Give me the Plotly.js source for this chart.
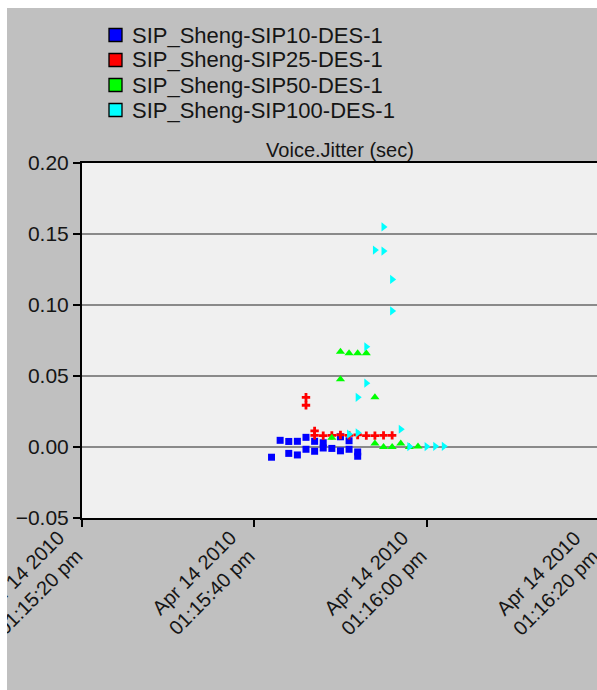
<!DOCTYPE html>
<html>
<head>
<meta charset="utf-8">
<script src="https://cdn.plot.ly/plotly-3.0.1.min.js"></script>
<style>
  html, body { margin: 0; padding: 0; background: #ffffff; overflow: hidden; width: 597px; height: 690px; }
  #chart { position: absolute; left: 7px; top: 8px; width: 600px; height: 682px; overflow: hidden; }
</style>
</head>
<body>
<div id="chart"></div>
<script>
// ---- data ----
const seriesNames = ["SIP_Sheng-SIP10-DES-1", "SIP_Sheng-SIP25-DES-1", "SIP_Sheng-SIP50-DES-1", "SIP_Sheng-SIP100-DES-1"];
const seriesColors = ["#0000ff", "#ff0000", "#00ff00", "#00ffff"];

const sip10Time = ["13:15:42","13:15:43","13:15:44","13:15:44","13:15:45","13:15:45","13:15:46","13:15:46","13:15:47","13:15:47","13:15:48","13:15:48","13:15:49","13:15:50","13:15:50","13:15:51","13:15:51","13:15:52","13:15:52"];
const sip10Jitter = [-0.0072, 0.0047, 0.0039, -0.0045, 0.0040, -0.0056, 0.0068, -0.0016, 0.0040, -0.0030, 0.0030, -0.0007, -0.0010, 0.0072, -0.0027, 0.0044, -0.0016, -0.0035, -0.0065];

const sip25Time = ["13:15:46","13:15:46","13:15:47","13:15:47","13:15:48","13:15:49","13:15:50","13:15:51","13:15:52","13:15:53","13:15:54","13:15:55","13:15:56"];
const sip25Jitter = [0.0350, 0.0294, 0.0113, 0.0082, 0.0080, 0.0082, 0.0085, 0.0082, 0.0085, 0.0080, 0.0080, 0.0082, 0.0082];

const sip50Time = ["13:15:49","13:15:50","13:15:50","13:15:51","13:15:52","13:15:53","13:15:54","13:15:54","13:15:55","13:15:56","13:15:57","13:15:58","13:15:59"];
const sip50Jitter = [0.0065, 0.0670, 0.0477, 0.0660, 0.0660, 0.0660, 0.0350, 0.0025, 0.0000, 0.0000, 0.0025, 0.0000, 0.0003];

const sip100Time = ["13:15:51","13:15:52","13:15:52","13:15:53","13:15:53","13:15:54","13:15:55","13:15:55","13:15:56","13:15:56","13:15:57","13:15:58","13:16:00","13:16:01","13:16:02"];
const sip100Jitter = [0.0090, 0.0350, 0.0100, 0.0706, 0.0449, 0.1387, 0.1550, 0.1380, 0.1180, 0.0958, 0.0125, 0.0003, 0.0003, 0.0005, 0.0005];

const xTickVals = ["13:15:20", "13:15:40", "13:16:00", "13:16:20"];
const xTickText = ["Apr 14 2010<br>01:15:20 pm", "Apr 14 2010<br>01:15:40 pm", "Apr 14 2010<br>01:16:00 pm", "Apr 14 2010<br>01:16:20 pm"];
const yTickVals = [-0.05, 0.00, 0.05, 0.10, 0.15, 0.20];
const yTickText = ["\u22120.05", "0.00", "0.05", "0.10", "0.15", "0.20"];

const day = "2010-04-14 ";
const toDate = arr => arr.map(t => day + t);

const symbols = ["square", "cross", "triangle-up", "triangle-right"];
const sizes = [7, 7, 8, 8];
const times = [sip10Time, sip25Time, sip50Time, sip100Time];
const values = [sip10Jitter, sip25Jitter, sip50Jitter, sip100Jitter];

const FONT = "Liberation Sans, Arial, sans-serif";
const TEXT = "#151515";

const traces = [];
for (let i = 0; i < 4; i++) {
  traces.push({
    type: "scatter", mode: "markers",
    x: toDate(times[i]), y: values[i],
    name: seriesNames[i], showlegend: false,
    marker: { symbol: symbols[i], size: sizes[i], color: seriesColors[i], line: { width: 0 } },
    hoverinfo: "skip"
  });
}

// geometry of the plot area (page pixels) used to place the legend box
const W = 600, H = 682, ML = 75, MR = 0, MT = 155, MB = 172;
const plotW = W - ML - MR, plotH = H - MT - MB;
const offX = 7, offY = 8;
const px2x = px => (px - offX - ML) / plotW;
const px2y = py => (H - MB - (py - offY)) / plotH;

const shapes = [], annotations = [];
const legendRowY = [35, 60, 85, 110];
for (let i = 0; i < 4; i++) {
  const cy = legendRowY[i];
  shapes.push({
    type: "rect", xref: "paper", yref: "paper",
    x0: px2x(109), x1: px2x(122), y0: px2y(cy + 6.5), y1: px2y(cy - 6.5),
    fillcolor: seriesColors[i], line: { color: "#000000", width: 1.3 }
  });
  annotations.push({
    xref: "paper", yref: "paper", x: px2x(130), y: px2y(cy),
    xanchor: "left", yanchor: "middle", showarrow: false,
    text: seriesNames[i],
    font: { family: FONT, size: 22, color: TEXT }
  });
}
// rotated date tick labels, placed at the axis tick positions
for (let i = 0; i < xTickVals.length; i++) {
  annotations.push({
    xref: "x", yref: "paper", x: day + xTickVals[i], y: px2y(583),
    xshift: -52, xanchor: "center", yanchor: "middle",
    textangle: -45, align: "right", showarrow: false,
    text: xTickText[i],
    font: { family: FONT, size: 20, color: TEXT }
  });
}

const layout = {
  width: W, height: H,
  paper_bgcolor: "#c0c0c0",
  plot_bgcolor: "#f0f0f0",
  margin: { l: ML, r: MR, t: MT, b: MB, pad: 0, autoexpand: false },
  font: { family: FONT, color: "#000000", size: 20 },
  showlegend: false,
  shapes: shapes,
  annotations: annotations,
  title: {
    text: "Voice.Jitter (sec)",
    font: { family: FONT, size: 20, color: TEXT },
    x: px2x(340), xref: "paper", xanchor: "center",
    y: 1 - (150 - offY) / H, yref: "container", yanchor: "middle"
  },
  xaxis: {
    type: "date",
    range: [day + "13:15:20", day + "13:16:20.94"],
    tickmode: "array",
    tickvals: toDate(xTickVals), ticktext: xTickText,
    showticklabels: false,
    ticks: "outside", ticklen: 7, tickwidth: 2, tickcolor: "#000000",
    showline: true, linecolor: "#000000", linewidth: 2, mirror: true,
    showgrid: false, zeroline: false
  },
  yaxis: {
    range: [-0.05, 0.20],
    tickmode: "array", tickvals: yTickVals, ticktext: yTickText,
    ticks: "outside", ticklen: 7, tickwidth: 2, tickcolor: "#000000",
    showline: true, linecolor: "#000000", linewidth: 2, mirror: true,
    showgrid: true, gridcolor: "#8a8a8a", gridwidth: 2,
    zeroline: false,
    tickfont: { family: FONT, size: 21, color: TEXT }
  }
};

Plotly.newPlot("chart", traces, layout, { staticPlot: true, displayModeBar: false });
</script>
</body>
</html>
